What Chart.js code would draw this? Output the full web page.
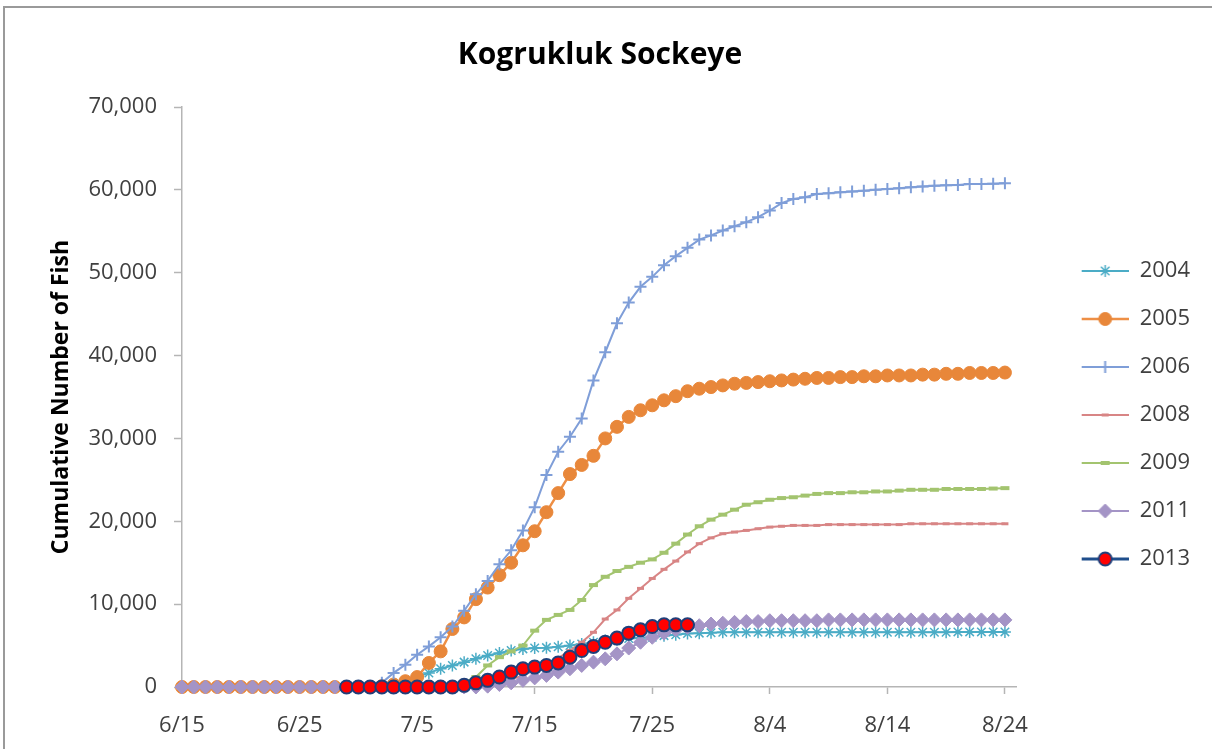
<!DOCTYPE html>
<html>
<head>
<meta charset="utf-8">
<title>Kogrukluk Sockeye</title>
<script src="https://cdn.jsdelivr.net/npm/chart.js"></script>
<style>
    body { margin: 0; background: #fff; }
    #wrap { position: relative; width: 1212px; height: 749px; overflow: hidden; }
    #frame { position: absolute; left: 3px; top: 6px; width: 1250px; height: 800px;
             border-top: 2px solid #9a9a9a; border-left: 2px solid #9a9a9a; }
    #chart { position: absolute; left: 0; top: 0; }
</style>
</head>
<body>
<div id="wrap">
    <div id="frame"></div>
    <canvas id="chart" width="1212" height="749"></canvas>
</div>
<script>
// days on the axis, 6/15 .. 8/25
const dates = [
    '6/15','6/16','6/17','6/18','6/19','6/20','6/21','6/22','6/23','6/24','6/25','6/26','6/27','6/28','6/29','6/30',
    '7/1','7/2','7/3','7/4','7/5','7/6','7/7','7/8','7/9','7/10','7/11','7/12','7/13','7/14','7/15','7/16',
    '7/17','7/18','7/19','7/20','7/21','7/22','7/23','7/24','7/25','7/26','7/27','7/28','7/29','7/30','7/31',
    '8/1','8/2','8/3','8/4','8/5','8/6','8/7','8/8','8/9','8/10','8/11','8/12','8/13','8/14','8/15','8/16',
    '8/17','8/18','8/19','8/20','8/21','8/22','8/23','8/24','8/25'
];
const tickLabels = ['6/15', '6/25', '7/5', '7/15', '7/25', '8/4', '8/14', '8/24'];
const yTicks = [0, 10000, 20000, 30000, 40000, 50000, 60000, 70000];

// cumulative counts, every series from 6/15 to 8/24 except 2013
const years = ['2004', '2005', '2006', '2008', '2009', '2011', '2013'];

const fish2004 = [
    0,0,0,0,0,0,0,0,0,0,
    0,0,0,0,0,0,0,0,300,700,
    1200,1700,2200,2600,3000,3400,3800,4100,4400,4600,
    4700,4750,4850,5000,5200,5400,5600,5700,5850,5950,
    6000,6200,6300,6450,6500,6550,6600,6600,6600,6600,
    6600,6600,6600,6600,6600,6600,6600,6600,6600,6600,
    6600,6600,6600,6600,6600,6600,6650,6650,6650,6650,
    6650
];
const fish2005 = [
    0,0,0,0,0,0,0,0,0,0,
    0,0,0,0,0,0,0,100,300,700,
    1200,2900,4300,7000,8400,10600,12000,13500,15000,17100,
    18800,21100,23400,25700,26800,27900,30000,31400,32600,33400,
    34000,34600,35100,35700,36000,36200,36400,36600,36700,36800,
    36900,37000,37100,37200,37300,37300,37400,37400,37500,37500,
    37600,37600,37600,37700,37700,37800,37800,37900,37900,37900,
    37950
];
const fish2006 = [
    0,0,0,0,0,0,0,0,0,0,
    0,0,0,0,0,0,0,500,1700,2700,
    3900,4900,6000,7300,9200,11200,12800,14800,16500,18900,
    21700,25600,28400,30200,32400,37000,40400,43900,46400,48300,
    49500,50900,52000,53000,54000,54500,55100,55600,56100,56700,
    57500,58400,58900,59100,59500,59600,59700,59800,59900,60000,
    60100,60200,60300,60400,60500,60550,60600,60700,60700,60750,
    60800
];
const fish2008 = [
    0,0,0,0,0,0,0,0,0,0,
    0,0,0,0,0,0,0,0,0,0,
    0,0,0,0,0,0,200,500,900,1400,
    2000,2700,3500,4400,5400,6600,8200,9300,10700,11900,
    13100,14200,15200,16300,17300,18000,18500,18700,18900,19100,
    19300,19400,19500,19500,19500,19600,19600,19600,19600,19600,
    19600,19600,19700,19700,19700,19700,19700,19700,19700,19700,
    19700
];
const fish2009 = [
    0,0,0,0,0,0,0,0,0,0,
    0,0,0,0,0,0,0,0,0,0,
    0,0,0,200,600,1200,2600,3600,4300,5000,
    6800,8100,8700,9300,10500,12300,13300,14000,14500,15000,
    15400,16200,17300,18400,19400,20200,20800,21400,22000,22300,
    22600,22800,22900,23100,23300,23400,23400,23500,23500,23600,
    23600,23700,23800,23800,23800,23900,23900,23900,23900,23950,
    24000
];
const fish2011 = [
    0,0,0,0,0,0,0,0,0,0,
    0,0,0,0,0,0,0,0,0,0,
    0,0,0,0,0,0,100,300,500,800,
    1100,1400,1800,2200,2600,3000,3400,4000,4700,5400,
    6000,6500,6900,7200,7400,7600,7700,7800,7900,7900,
    8000,8000,8000,8000,8000,8100,8100,8100,8100,8100,
    8100,8100,8100,8100,8100,8100,8100,8100,8100,8100,
    8100
];
// 2013 starts on 6/29
const fish2013 = [
    0,0,0,0,0,0,0,0,0,0,
    200,500,800,1200,1800,2200,2400,2600,2900,3600,
    4400,4900,5400,5900,6500,6900,7300,7500,7500,7500
];
const startDays = ['6/15', '6/15', '6/15', '6/15', '6/15', '6/15', '6/29'];
const allFish = [fish2004, fish2005, fish2006, fish2008, fish2009, fish2011, fish2013];

// look of each series
const styles = [
    { line: '#4bacc6', width: 2, point: 'star', r: 6, fill: '#4bacc6', edge: '#4bacc6', edgeW: 1.5 },
    { line: '#ee8f45', width: 2.5, point: 'circle', r: 6.5, fill: '#e8873a', edge: '#e8873a', edgeW: 1 },
    { line: '#7f9ed8', width: 2, point: 'cross', r: 6, fill: '#7f9ed8', edge: '#7f9ed8', edgeW: 2 },
    { line: '#d88585', width: 2, point: 'line', r: 3.5, fill: '#d88585', edge: '#d88585', edgeW: 3 },
    { line: '#a3c46f', width: 2, point: 'line', r: 4.5, fill: '#a3c46f', edge: '#a3c46f', edgeW: 4 },
    { line: '#a494c6', width: 2, point: 'rectRot', r: 7, fill: '#a494c6', edge: '#a494c6', edgeW: 1 },
    { line: '#1f4e8c', width: 3, point: 'circle', r: 6.5, fill: '#ff0000', edge: '#1f3f7a', edgeW: 2 }
];

// small line + marker picture for the legend
const iconW = 86;
function legendIcon(st) {
    const c = document.createElement('canvas');
    c.width = iconW;
    c.height = 20;
    const g = c.getContext('2d');
    g.strokeStyle = st.line;
    g.lineWidth = st.width;
    g.beginPath();
    g.moveTo(iconW - 47, 10);
    g.lineTo(iconW, 10);
    g.stroke();
    g.fillStyle = st.fill;
    g.strokeStyle = st.edge;
    g.lineWidth = st.edgeW;
    Chart.helpers.drawPoint(g, { pointStyle: st.point, radius: st.r, borderWidth: st.edgeW, rotation: 0 }, iconW - 23.5, 10);
    return c;
}

var datasets = years.map(function (year, i) {
    const first = dates.indexOf(startDays[i]);
    const st = styles[i];
    return {
        label: year,
        data: allFish[i].map((v, k) => ({ x: dates[first + k], y: v })),
        borderColor: st.line,
        borderWidth: st.width,
        pointStyle: st.point,
        pointRadius: st.r,
        pointHoverRadius: st.r,
        pointBackgroundColor: st.fill,
        pointBorderColor: st.edge,
        pointBorderWidth: st.edgeW,
        tension: 0,
        clip: false,
        order: years.length - 1 - i
    };
});

const tickFont = { family: '"Open Sans", sans-serif', size: 22 };

new Chart(document.getElementById('chart'), {
    type: 'line',
    data: { labels: dates, datasets: datasets },
    options: {
        responsive: false,
        animation: false,
        events: [],
        layout: { padding: { left: 0, top: 0, right: 12, bottom: 0 } },
        scales: {
            x: {
                type: 'category',
                afterBuildTicks: (scale) => {
                    scale.ticks = scale.ticks.filter(t => tickLabels.includes(dates[t.value]));
                },
                afterFit: (scale) => { scale.height = 62; },
                ticks: {
                    autoSkip: false,
                    maxRotation: 0,
                    padding: 19,
                    color: '#404040',
                    font: tickFont,
                    callback: (v) => dates[v]
                },
                grid: { drawOnChartArea: false, drawTicks: true, tickLength: 7, tickColor: '#b5b5b5', tickWidth: 1.5 },
                border: { color: '#b5b5b5', width: 1.5 }
            },
            y: {
                min: 0,
                max: 70000,
                afterBuildTicks: (scale) => {
                    scale.ticks = yTicks.map(v => ({ value: v }));
                },
                afterFit: (scale) => { scale.width = 182; },
                ticks: {
                    padding: 17,
                    color: '#404040',
                    font: tickFont,
                    callback: (v) => v.toLocaleString('en-US')
                },
                grid: { drawOnChartArea: false, drawTicks: true, tickLength: 8, tickColor: '#b5b5b5', tickWidth: 1.5 },
                border: { color: '#b5b5b5', width: 1.5 },
                title: {
                    display: true,
                    text: 'Cumulative Number of Fish',
                    color: '#000',
                    font: { family: '"Open Sans", sans-serif', size: 23, weight: 'bold' },
                    padding: { top: 48, bottom: 0 }
                }
            }
        },
        plugins: {
            title: {
                display: true,
                text: 'Kogrukluk Sockeye',
                color: '#000',
                font: { family: '"Open Sans", sans-serif', size: 30, weight: 'bold' },
                padding: { top: 37, bottom: 34 }
            },
            legend: {
                position: 'right',
                fullSize: false,
                title: { display: true, text: '', font: { size: 10 }, padding: { top: 24, bottom: 0 } },
                labels: {
                    usePointStyle: true,
                    pointStyleWidth: iconW,
                    padding: 26,
                    color: '#404040',
                    font: tickFont,
                    generateLabels: (chart) => chart.data.datasets.map((ds, i) => ({
                        text: ds.label,
                        datasetIndex: i,
                        pointStyle: legendIcon(styles[i]),
                        fontColor: '#404040',
                        fillStyle: 'transparent',
                        strokeStyle: 'transparent',
                        lineWidth: 0,
                        hidden: false
                    }))
                }
            },
            tooltip: { enabled: false }
        }
    }
});
</script>
</body>
</html>
